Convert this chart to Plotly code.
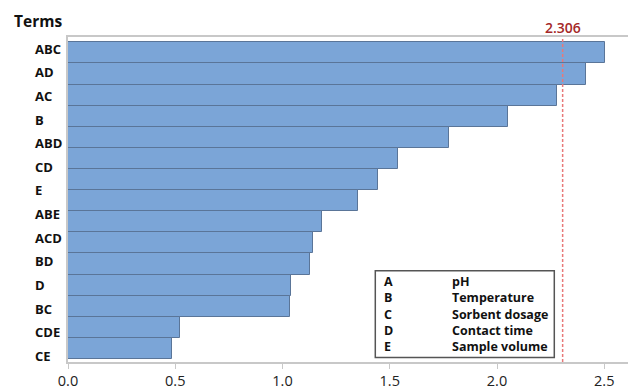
import plotly.graph_objects as go

# ---- data ----
bar_values = [2.502, 2.415, 2.281, 2.050, 1.776, 1.538, 1.444, 1.353,
              1.183, 1.140, 1.128, 1.040, 1.036, 0.520, 0.484]
term_labels = ["ABC", "AD", "AC", "B", "ABD", "CD", "E", "ABE",
               "ACD", "BD", "D", "BC", "CDE", "CE"]
critical_value = 2.306
factor_codes = ["A", "B", "C", "D", "E"]
factor_names = ["pH", "Temperature", "Sorbent dosage", "Contact time", "Sample volume"]
x_ticks = [0.0, 0.5, 1.0, 1.5, 2.0, 2.5]

W, H = 628, 390
L, R, T, B = 68, 0, 37, 22
plot_h = H - T - B
plot_w = W - L - R
bar_px = 21.49          # pixel height of one bar slot
top_gap = 5.4 / bar_px
bot_gap = 3.0 / bar_px
n = len(bar_values)
y_pos = list(range(n))

fig = go.Figure()
fig.add_trace(go.Bar(
    x=bar_values, y=y_pos, orientation="h",
    marker=dict(color="#7ba5d7", line=dict(color="#5a7598", width=1)),
    hoverinfo="x",
))

font = "Open Sans"
annotations = []
# term labels (left aligned, their own spacing)
for j, lab in enumerate(term_labels):
    px = 49.3 + 24.03 * j
    yd = (px - (T + 5.7)) / bar_px - 0.5
    annotations.append(dict(text=lab, xref="paper", yref="y", x=(32.5 - L) / plot_w, y=yd,
                            xanchor="left", yanchor="middle", showarrow=False,
                            font=dict(family=font, size=13, color="#111111", weight="bold")))
# "Terms" title
annotations.append(dict(text="Terms", xref="paper", yref="paper",
                        x=(12 - L) / plot_w, y=1 + (T - 21) / plot_h,
                        xanchor="left", yanchor="middle", showarrow=False,
                        font=dict(family=font, size=15.5, color="#111111", weight="bold")))
# critical value label
annotations.append(dict(text=f"{critical_value:.3f}", xref="x", yref="paper",
                        x=critical_value, y=1 + (T - 27) / plot_h,
                        xanchor="center", yanchor="middle", showarrow=False,
                        font=dict(family=font, size=14, color="#a52828", weight=600)))
# factor legend text (one block per column)
legend_center_px = (286.7 + 351.3) / 2
yp = (H - B - legend_center_px) / plot_h
annotations.append(dict(text="<br>".join(factor_codes), xref="paper", yref="paper",
                        x=(381.5 - L) / plot_w, y=yp, xanchor="left", yanchor="middle",
                        align="left", showarrow=False,
                        font=dict(family=font, size=12.5, color="#111111", weight="bold")))
annotations.append(dict(text="<br>".join(factor_names), xref="paper", yref="paper",
                        x=(450 - L) / plot_w, y=yp, xanchor="left", yanchor="middle",
                        align="left", showarrow=False,
                        font=dict(family=font, size=12.5, color="#111111", weight="bold")))

shapes = [
    dict(type="line", xref="x", yref="paper", x0=critical_value, x1=critical_value,
         y0=0, y1=1, line=dict(color="#e87878", width=1.5, dash="3px,2px")),
    dict(type="rect", xref="paper", yref="paper",
         x0=(375.3 - L) / plot_w, x1=(554.3 - L) / plot_w,
         y0=(H - B - 363.3) / plot_h, y1=(H - B - 275) / plot_h,
         line=dict(color="#555555", width=1.5), fillcolor="rgba(255,255,255,0)"),
]

fig.update_layout(
    width=W, height=H,
    margin=dict(l=L, r=R, t=T, b=B, pad=0),
    plot_bgcolor="white", paper_bgcolor="white",
    bargap=0, showlegend=False,
    font=dict(family=font, color="#222222"),
    annotations=annotations, shapes=shapes,
    xaxis=dict(range=[0, plot_w / 214.5], tickvals=x_ticks,
               ticktext=[f"{v:.1f}" for v in x_ticks],
               tickfont=dict(size=14.5, color="#222222"),
               showgrid=False, zeroline=False, showline=True, linecolor="#c8c8c8",
               linewidth=1.5, mirror=True, ticks="outside", ticklen=5, tickcolor="#c8c8c8"),
    yaxis=dict(range=[n - 0.5 + bot_gap, -0.5 - top_gap], showticklabels=False,
               showgrid=False, zeroline=False, showline=True, linecolor="#c8c8c8",
               linewidth=1.5, ticks=""),
)

fig.write_html("out.html")
